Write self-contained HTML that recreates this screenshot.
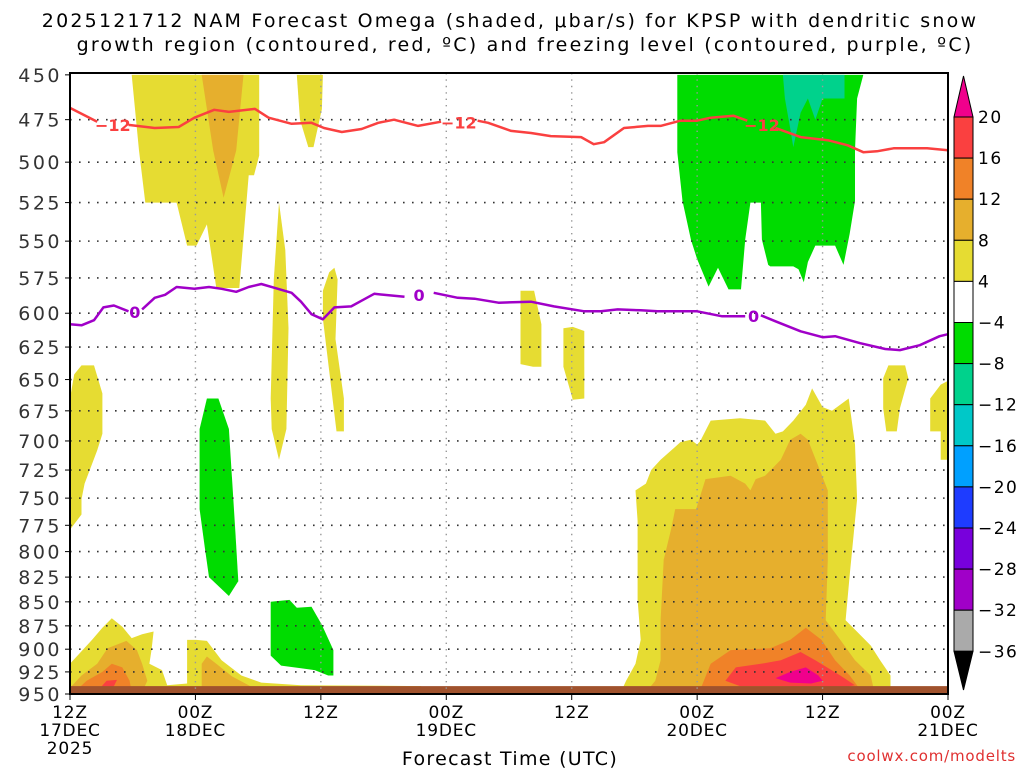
<!DOCTYPE html>
<html><head><meta charset="utf-8"><style>
body{margin:0;background:#fff;}
svg{display:block;font-family:"DejaVu Sans","Liberation Sans",sans-serif;}
</style></head><body>
<svg id="chart" width="1024" height="768" viewBox="0 0 1024 768" xmlns="http://www.w3.org/2000/svg">
<text x="510" y="27" font-size="19" letter-spacing="2.2" text-anchor="middle" fill="#000">2025121712 NAM Forecast Omega (shaded, μbar/s) for KPSP with dendritic snow</text>
<text x="525" y="51" font-size="19" letter-spacing="2.2" text-anchor="middle" fill="#000">growth region (contoured, red, ºC) and freezing level (contoured, purple, ºC)</text>
<g id="shade"></g>
<g id="grid"></g>
<g id="lines"></g>
<g id="axes"></g>
<g id="cbar"></g>
<text x="510" y="765" font-size="19" letter-spacing="1.3" text-anchor="middle">Forecast Time (UTC)</text>
<text x="1016" y="761" font-size="15" letter-spacing="0.8" text-anchor="end" fill="#e03030">coolwx.com/modelts</text>
</svg>
<script>
const levels=[450,475,500,525,550,575,600,625,650,675,700,725,750,775,800,825,850,875,900,925,950];
const timeHours=[0,12,24,36,48,60,72,84];
const timeLabels=[["12Z","17DEC","2025"],["00Z","18DEC"],["12Z"],["00Z","19DEC"],["12Z"],["00Z","20DEC"],["12Z"],["00Z","21DEC"]];
const cbarLabels=["20","16","12","8","4","-4","-8","-12","-16","-20","-24","-28","-32","-36"];
const cbarColors=["#f0008c","#fa4040","#f08228","#e6af2d","#e6dc32","#ffffff","#00dc00","#00d28c","#00c8c8","#00a0ff","#1e3cff","#7800dc","#a000c8","#aaaaaa","#000000"];
const COL={y:"#e6dc32",g:"#e6af2d",o:"#f08228",r:"#fa4040",m:"#f0008c",gr:"#00dc00",t:"#00d28c"};
const yellowTopLeft=[[5.9,450],[6.6,493],[7.2,525],[10.2,525],[11.2,553],[12.1,553],[13.1,539],[14.0,582],[16.2,582],[17.1,508],[17.6,508],[18.1,496],[18.1,450]];
const goldTopLeft=[[12.6,450],[13.7,493],[14.7,522],[15.9,493],[16.6,450]];
const yellowTopSmall=[[21.7,450],[22.0,475],[22.8,491],[23.3,491],[24.1,469],[24.2,450]];
const yellowThin1=[[20.0,525],[19.5,576],[19.2,665],[19.3,690],[20.0,716],[20.7,690],[20.9,611],[20.6,556]];
const yellowThin2=[[24.2,584],[24.8,571],[25.3,568],[25.6,576],[25.4,619],[26.2,665],[26.2,692],[25.5,692],[25.0,657],[24.2,604]];
const yellowLeftMid=[[0,665],[0.4,646],[1.1,639],[2.3,639],[3.1,661],[3.1,694],[2.6,708],[1.4,737],[1.1,751],[1.1,765],[0,779]];
const greenLeft=[[13.1,665],[14.2,665],[15.2,690],[15.8,777],[16.1,829],[15.2,844],[13.3,825],[12.9,796],[12.4,760],[12.4,690]];
const greenBlock=[[19.2,850],[21.0,848],[21.7,856],[23.1,855],[24.1,874],[25.2,901],[25.2,929],[24.7,929],[23.4,923],[22.1,921],[20.2,918],[19.2,907]];
const yellowBottomLeft=[[0,948],[0,916],[2.1,890],[3.1,877],[4.0,867],[5.0,876],[5.9,888],[6.9,884],[8.0,881],[7.8,901],[7.6,916],[8.8,923],[9.3,940],[11.2,938],[11.2,890],[12.1,890],[13.1,891],[14.5,912],[16.4,929],[18.3,937],[22.1,940],[33.6,941],[33.6,950],[0,950]];
const goldBottomLeft=[[0,943],[1.1,929],[2.6,916],[3.6,899],[5.4,891],[6.4,901],[6.9,916],[7.4,935],[6.9,948],[0,948]];
const goldBottomMid=[[12.6,948],[12.6,916],[13.1,908],[14.0,916],[15.5,930],[17.4,942],[17.4,948]];
const orangeBottomLeft=[[0.4,948],[1.6,935],[3.1,925],[4.0,916],[5.0,920],[5.7,935],[5.9,948]];
const redBottomLeft=[[2.9,943],[3.5,935],[4.5,934],[4.2,941],[3.1,945]];
const yellowRightBig=[[52.7,948],[53.2,935],[54.1,916],[54.6,890],[54.3,848],[54.3,771],[54.1,743],[55.1,737],[55.6,725],[56.5,716],[57.9,705],[58.4,701],[59.4,699],[60.0,703],[60.3,700],[61.3,683],[64.1,681],[66.5,683],[67.5,694],[68.2,692],[69.2,683],[70.4,670],[71.0,657],[72.0,672],[72.9,675],[74.5,665],[75.1,703],[75.3,751],[74.6,823],[74.2,869],[75.1,879],[76.6,896],[77.5,912],[78.5,929],[78.5,950],[52.7,950]];
const goldRight=[[55.1,948],[56.0,935],[56.5,912],[56.5,869],[56.8,808],[57.5,779],[57.9,760],[59.9,760],[60.8,733],[63.2,730],[64.6,737],[65.1,743],[65.6,733],[66.5,730],[68.0,716],[68.9,699],[69.9,694],[70.6,699],[72.5,743],[72.5,808],[72.3,869],[73.7,890],[75.1,912],[76.6,929],[77.0,950],[55.1,950]];
const orangeRight=[[60.3,945],[61.3,916],[63.2,901],[67.0,899],[68.9,890],[70.4,877],[71.9,890],[73.2,912],[74.6,929],[75.6,945]];
const redRight=[[62.7,935],[63.7,920],[66.1,916],[68.0,912],[69.9,903],[71.3,912],[73.7,929],[75.1,940],[73.7,943],[68.0,941],[64.1,941]];
const magentaRight=[[67.5,932],[68.9,925],[70.4,920],[71.6,929],[72.0,935],[70.9,938],[68.9,937]];
const yellowRightBlob=[[77.8,649],[78.3,639],[79.9,639],[80.2,649],[79.4,673],[79.1,692],[78.1,692],[77.8,673]];
const yellowFarRight=[[82.3,665],[83.3,654],[84,651],[84,716],[83.3,716],[83.3,692],[82.3,692]];
const yellowMid1=[[43.1,584],[44.4,584],[45.1,608],[45.1,640],[44.3,640],[43.1,638]];
const yellowMid2=[[47.2,611],[48.1,610],[49.2,613],[49.2,665],[48.1,666],[47.2,640]];
const greenTopRight=[[58.1,450],[58.1,494],[58.6,524],[59.4,549],[60.0,562],[61.1,581],[62.0,568],[63.0,583],[64.2,583],[64.6,549],[65.1,525],[66.1,525],[66.2,549],[66.8,566],[67.0,567],[69.2,567],[69.7,569],[70.2,578],[70.6,564],[71.3,553],[73.2,553],[74.0,566],[74.6,545],[75.1,524],[75.1,493],[75.3,463],[75.9,450]];
const tealTopRight=[[68.2,450],[68.4,463],[68.9,480],[69.2,491],[69.9,471],[70.6,463],[71.3,475],[72.0,463],[74.1,463],[74.1,450]];
const regions=[["y",yellowTopLeft],["g",goldTopLeft],["y",yellowTopSmall],["y",yellowThin1],["y",yellowThin2],["y",yellowLeftMid],["gr",greenLeft],["gr",greenBlock],["y",yellowBottomLeft],["g",goldBottomLeft],["g",goldBottomMid],["o",orangeBottomLeft],["r",redBottomLeft],["y",yellowRightBig],["g",goldRight],["o",orangeRight],["r",redRight],["m",magentaRight],["y",yellowRightBlob],["y",yellowFarRight],["y",yellowMid1],["y",yellowMid2],["gr",greenTopRight],["t",tealTopRight]];
const regionNames=["yellow-top-left","gold-top-left","yellow-top-small","yellow-thin-1","yellow-thin-2","yellow-left-mid","green-left","green-block","yellow-bottom-left","gold-bottom-left","gold-bottom-mid","orange-bottom-left","red-bottom-left","yellow-right-big","gold-right","orange-right","red-right","magenta-right","yellow-right-blob","yellow-far-right","yellow-mid-1","yellow-mid-2","green-top-right","teal-top-right"];
const redLine=[[0,468.3],[2.6,476.2],null,[5.6,478],[8.1,479.8],[10.4,479.2],[11.9,473.9],[13.8,469.4],[15.2,470.6],[17.7,468.9],[19,473.9],[21.2,477.4],[23.1,476.8],[24.3,479.8],[26,482.1],[27.9,480.4],[29.5,476.8],[31,475],[33.3,478.6],[35.5,476.2],null,[39,475.6],[40,476.8],[42.2,481.5],[44.1,482.7],[46,484.5],[48.9,485.1],[50.1,489.3],[51.1,488.1],[53,479.8],[55.3,478.6],[56.5,478.6],[58.4,475.6],[60,475.6],[61.3,473.9],[63.5,472.8],[64.8,475.6],null,[67.5,479.8],[69.9,485.1],[72.5,486.9],[74.4,489.9],[75.9,494],[77.2,493.5],[78.8,491.7],[82,491.7],[84,492.9]];
const redLabels=[[4.1,478],[37.2,476.5],[66.2,478]];
const purpleLine=[[0,608],[1.1,608.8],[2.3,605.1],[3.2,595.8],[4.2,594.4],[5.6,598.6],null,[6.9,597.2],[8.1,588.9],[9.1,586.8],[10.2,581.3],[11.9,582.6],[13.3,581.3],[14.5,582.6],[15.9,584.7],[17.1,581.3],[18.3,579.2],[19.6,581.9],[21.2,585.4],[22.1,591.7],[23.1,600.7],[24.2,604.4],[25.3,595.8],[26.9,595.1],[27.9,591],[29.1,586.1],[32,588.2],null,[34.8,585.4],[37.1,588.9],[38.7,589.6],[41,592.4],[44.1,591.7],[46.3,595.1],[49.2,598.6],[50.8,598.6],[52.4,597.2],[54.6,597.9],[56.2,598.6],[60,598.6],[62.4,602.2],[64.6,602.2],null,[66.1,601.5],[67.5,605.9],[69.9,613.2],[72,617.6],[73.2,616.9],[75.6,622.1],[78,626.5],[79.4,627.3],[81.3,623.6],[83.2,616.9],[84,615.4]];
const purpleLabels=[[6.2,599],[33.4,587],[65.4,602]];
const groundTop=941;

const L=70,R=948,T=73,B=694;
const X=h=>L+h*(R-L)/84;
const Y=p=>B-828.6*Math.log(950/p);
const NS="http://www.w3.org/2000/svg";
function mk(tag,attrs,parent){const e=document.createElementNS(NS,tag);for(const k in attrs)e.setAttribute(k,attrs[k]);parent.appendChild(e);return e;}
const shade=document.getElementById('shade');
regions.forEach((r,i)=>{
  const pts=r[1].map(q=>X(q[0]).toFixed(1)+","+Y(q[1]).toFixed(1)).join(" ");
  const e=mk('polygon',{points:pts,fill:COL[r[0]]},shade);
  
  
});
const gnd=mk('rect',{x:L,y:Y(groundTop),width:R-L,height:B-Y(groundTop),fill:"#a0522d"},shade);



const grid=document.getElementById('grid'), axes=document.getElementById('axes');
levels.forEach(p=>{
  const y=Y(p);
  if(p>450&&p<950){const l=mk('line',{x1:L,x2:R,y1:y,y2:y,stroke:"#333","stroke-width":1.6,"stroke-dasharray":"1.6 7.4"},grid);
  
  }
  const tk=mk('line',{x1:L-5,x2:L,y1:y,y2:y,stroke:"#000","stroke-width":1},axes);
  
  
  const t=mk('text',{x:L-8,y:y+7,"font-size":19,"letter-spacing":2.5,"text-anchor":"end",fill:"#333"},axes);
  t.textContent=p;
  
  
});
timeHours.forEach((h,i)=>{
  const x=X(h);
  if(h>0&&h<84){const l=mk('line',{x1:x,x2:x,y1:T,y2:B,stroke:"#999","stroke-width":1.4,"stroke-dasharray":"1.4 5"},grid);
  
  }
  const tk=mk('line',{x1:x,x2:x,y1:B,y2:B+6,stroke:"#000","stroke-width":1},axes);
  
  
  timeLabels[i].forEach((s,j)=>{
    const t=mk('text',{x:x,y:718+j*18,"font-size":17,"letter-spacing":0.8,"text-anchor":"middle",fill:"#000"},axes);
    t.textContent=s;
    
    
  });
});
const frame=mk('rect',{x:L,y:T,width:R-L,height:B-T,fill:"none",stroke:"#000","stroke-width":2},axes);



const lines=document.getElementById('lines');
function drawLine(data,color,name){
  let segs=[[]];
  data.forEach(q=>{if(q===null)segs.push([]);else segs[segs.length-1].push(X(q[0]).toFixed(1)+","+Y(q[1]).toFixed(1));});
  segs.forEach((s,i)=>{const e=mk('polyline',{points:s.join(" "),fill:"none",stroke:color,"stroke-width":2.5,"stroke-linejoin":"round"},lines);
  
  });
}
drawLine(redLine,"#fa4040","dgz-minus12-line");
drawLine(purpleLine,"#a000c8","freezing-level-line");
redLabels.forEach(q=>{const t=mk('text',{x:X(q[0]),y:Y(q[1])+6,"font-size":16,"font-weight":"bold","text-anchor":"middle",fill:"#fa4040"},lines);t.textContent="−12";

});
purpleLabels.forEach(q=>{const t=mk('text',{x:X(q[0]),y:Y(q[1])+6,"font-size":16,"font-weight":"bold","text-anchor":"middle",fill:"#a000c8"},lines);t.textContent="0";

});

const cb=document.getElementById('cbar');
const cx=954,cw=19,c0=117,ch=41.1;
cbarColors.forEach((c,i)=>{
  let e;
  if(i===0)e=mk('polygon',{points:`${cx},${c0} ${cx+cw},${c0} ${cx+cw/2},${76}`,fill:c,stroke:"#000"},cb);
  else if(i===cbarColors.length-1){const yb=c0+(i-1)*ch;e=mk('polygon',{points:`${cx},${yb} ${cx+cw},${yb} ${cx+cw/2},${690}`,fill:c,stroke:"#000"},cb);}
  else e=mk('rect',{x:cx,y:c0+(i-1)*ch,width:cw,height:ch,fill:c,stroke:"#000"},cb);
  
  
});
cbarLabels.forEach((s,i)=>{
  const t=mk('text',{x:978,y:c0+i*ch+6,"font-size":17,"letter-spacing":1.5,fill:"#000"},cb);
  t.textContent=s.replace('-','−');
  
  
});
</script>
</body></html>
